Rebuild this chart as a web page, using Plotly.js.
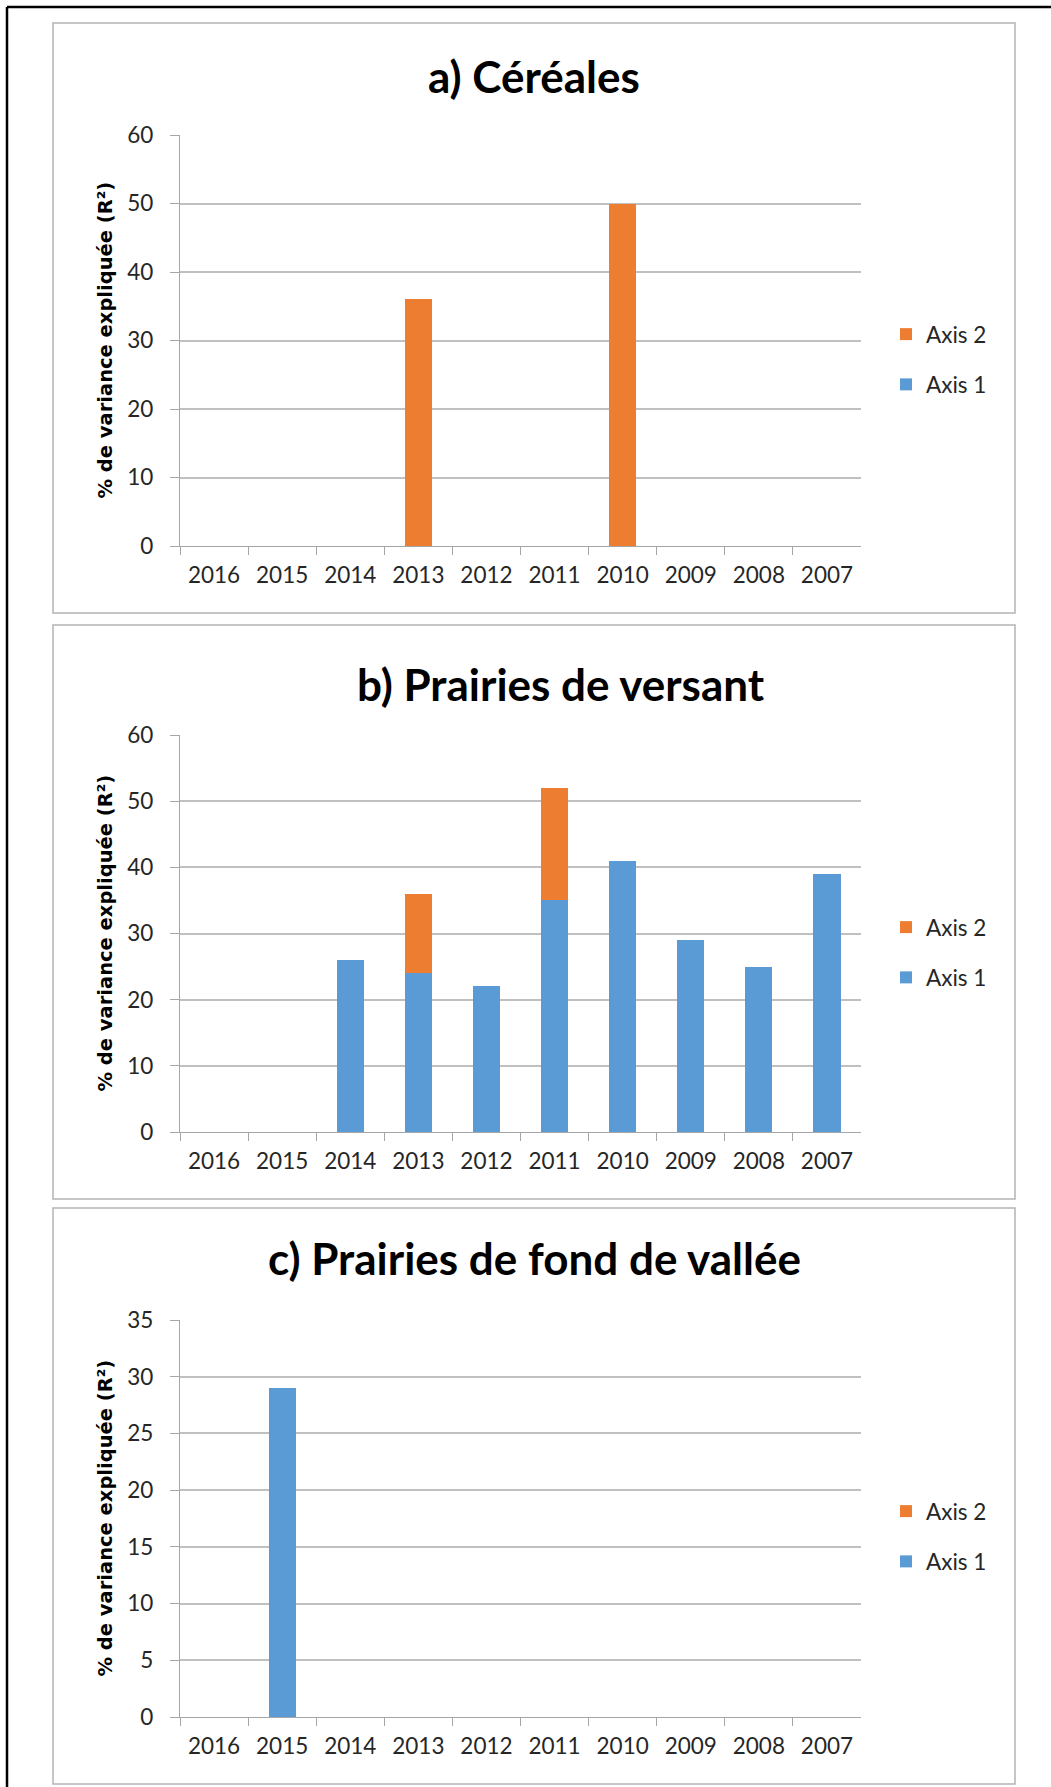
<!DOCTYPE html>
<html>
<head>
<meta charset="utf-8">
<script src="https://cdn.plot.ly/plotly-3.0.1.min.js"></script>
<style>
  html, body { margin: 0; padding: 0; background: #ffffff; }
  #chart { width: 1051px; height: 1787px; }
</style>
</head>
<body>
<div id="chart"></div>
<script>
// ---- Data ----
const years = ["2016", "2015", "2014", "2013", "2012", "2011", "2010", "2009", "2008", "2007"];

// a) Céréales
const cerealesAxis1 = [0, 0, 0, 0, 0, 0, 0, 0, 0, 0];
const cerealesAxis2 = [0, 0, 0, 36, 0, 0, 50, 0, 0, 0];

// b) Prairies de versant
const versantAxis1 = [0, 0, 26, 24, 22, 35, 41, 29, 25, 39];
const versantAxis2 = [0, 0, 0, 12, 0, 17, 0, 0, 0, 0];

// c) Prairies de fond de vallée
const valleeAxis1 = [0, 29, 0, 0, 0, 0, 0, 0, 0, 0];
const valleeAxis2 = [0, 0, 0, 0, 0, 0, 0, 0, 0, 0];

const panelTitles = ["a) Céréales", "b) Prairies de versant", "c) Prairies de fond de vallée"];
const seriesNames = ["Axis 1", "Axis 2"];
const yTitle = "% de variance expliquée (R²)";

// ---- Layout helpers ----
const W = 1051, H = 1787;
const px = v => v / W;
const py = v => 1 - v / H;

const COL1 = "#5B9BD5";
const COL2 = "#ED7D31";
const GRID = "#C0C0C0";
const FONT = "Lato, 'Open Sans', sans-serif";

const panels = [
  { a1: cerealesAxis1, a2: cerealesAxis2, top: 135, bottom: 546, range: [0, 60], dtick: 10,
    box: [53, 23, 1015, 613], titleX: 534, titleY: 76, legY: 359.5 },
  { a1: versantAxis1, a2: versantAxis2, top: 735, bottom: 1132, range: [0, 60], dtick: 10,
    box: [53, 625, 1015, 1199], titleX: 561, titleY: 684, legY: 952.5 },
  { a1: valleeAxis1, a2: valleeAxis2, top: 1320, bottom: 1717, range: [0, 35], dtick: 5,
    box: [53, 1208, 1015, 1784], titleX: 534, titleY: 1258, legY: 1536.5 }
];

const data = [];
const layout = {
  width: W, height: H,
  margin: { l: 0, r: 0, t: 0, b: 0 },
  paper_bgcolor: "#ffffff",
  plot_bgcolor: "#ffffff",
  barmode: "stack",
  bargap: 0.6,
  showlegend: true,
  font: { family: FONT, color: "#262626", size: 22 },
  shapes: [],
  annotations: []
};

// outer black border (top and left edges)
layout.shapes.push({ type: "line", xref: "paper", yref: "paper", x0: px(7), x1: 1.01, y0: py(7), y1: py(7),
  line: { color: "#000000", width: 2.5 } });
layout.shapes.push({ type: "line", xref: "paper", yref: "paper", x0: px(7), x1: px(7), y0: py(7), y1: -0.01,
  line: { color: "#000000", width: 2.5 } });

panels.forEach((p, i) => {
  const n = i + 1;
  const xa = n === 1 ? "x" : "x" + n;
  const ya = n === 1 ? "y" : "y" + n;
  const xk = n === 1 ? "xaxis" : "xaxis" + n;
  const yk = n === 1 ? "yaxis" : "yaxis" + n;
  const lk = n === 1 ? "legend" : "legend" + n;

  data.push({
    type: "bar", name: seriesNames[0], x: years, y: p.a1, xaxis: xa, yaxis: ya,
    marker: { color: COL1 }, legend: lk, legendgroup: "g1_" + n, legendrank: 2,
    hoverinfo: "x+y+name"
  });
  data.push({
    type: "bar", name: seriesNames[1], x: years, y: p.a2, xaxis: xa, yaxis: ya,
    marker: { color: COL2 }, legend: lk, legendgroup: "g2_" + n, legendrank: 1,
    hoverinfo: "x+y+name"
  });

  layout[xk] = {
    domain: [px(180), px(861)],
    anchor: ya,
    type: "category",
    categoryorder: "array",
    categoryarray: years,
    showline: true, linecolor: "#A6A6A6", linewidth: 1.3,
    ticks: "outside", tickson: "boundaries", ticklen: 8, tickcolor: "#A6A6A6", tickwidth: 1.3,
    showgrid: false, zeroline: false,
    tickfont: { family: FONT, size: 22.5, color: "#262626" },
    ticklabelstandoff: 9,
    fixedrange: true
  };
  layout[yk] = {
    domain: [py(p.bottom), py(p.top)],
    anchor: xa,
    range: p.range, dtick: p.dtick, tick0: 0,
    showline: true, linecolor: "#A6A6A6", linewidth: 1.3,
    ticks: "outside", ticklen: 9, tickcolor: "#A6A6A6", tickwidth: 1.3,
    showgrid: true, gridcolor: GRID, gridwidth: 1.5,
    zeroline: false,
    tickfont: { family: FONT, size: 22.5, color: "#262626" },
    ticklabelstandoff: 12,
    fixedrange: true
  };
  layout[lk] = {
    x: px(886), xanchor: "left",
    y: py(p.legY), yanchor: "middle",
    traceorder: "grouped",
    tracegroupgap: 18,
    font: { family: FONT, size: 22.5, color: "#262626" },
    bgcolor: "rgba(0,0,0,0)",
    itemclick: false, itemdoubleclick: false
  };

  // panel border
  layout.shapes.push({ type: "rect", xref: "paper", yref: "paper",
    x0: px(p.box[0]), y0: py(p.box[1]), x1: px(p.box[2]), y1: py(p.box[3]),
    line: { color: "#B4B4B4", width: 1.5 }, fillcolor: "rgba(0,0,0,0)", layer: "below" });

  // panel title
  layout.annotations.push({
    xref: "paper", yref: "paper", x: px(p.titleX), y: py(p.titleY),
    xanchor: "center", yanchor: "middle", showarrow: false,
    text: "<b>" + panelTitles[i] + "</b>",
    font: { family: FONT, size: 44, color: "#000000" }
  });

  // y-axis title
  layout.annotations.push({
    xref: "paper", yref: "paper", x: px(105), y: py((p.top + p.bottom) / 2),
    xanchor: "center", yanchor: "middle", showarrow: false, textangle: -90,
    text: "<b>" + yTitle + "</b>",
    font: { family: "'DejaVu Sans', Verdana, sans-serif", size: 19.5, color: "#000000" }
  });
});

Plotly.newPlot("chart", data, layout, { displayModeBar: false, staticPlot: false, responsive: false });
</script>
</body>
</html>
